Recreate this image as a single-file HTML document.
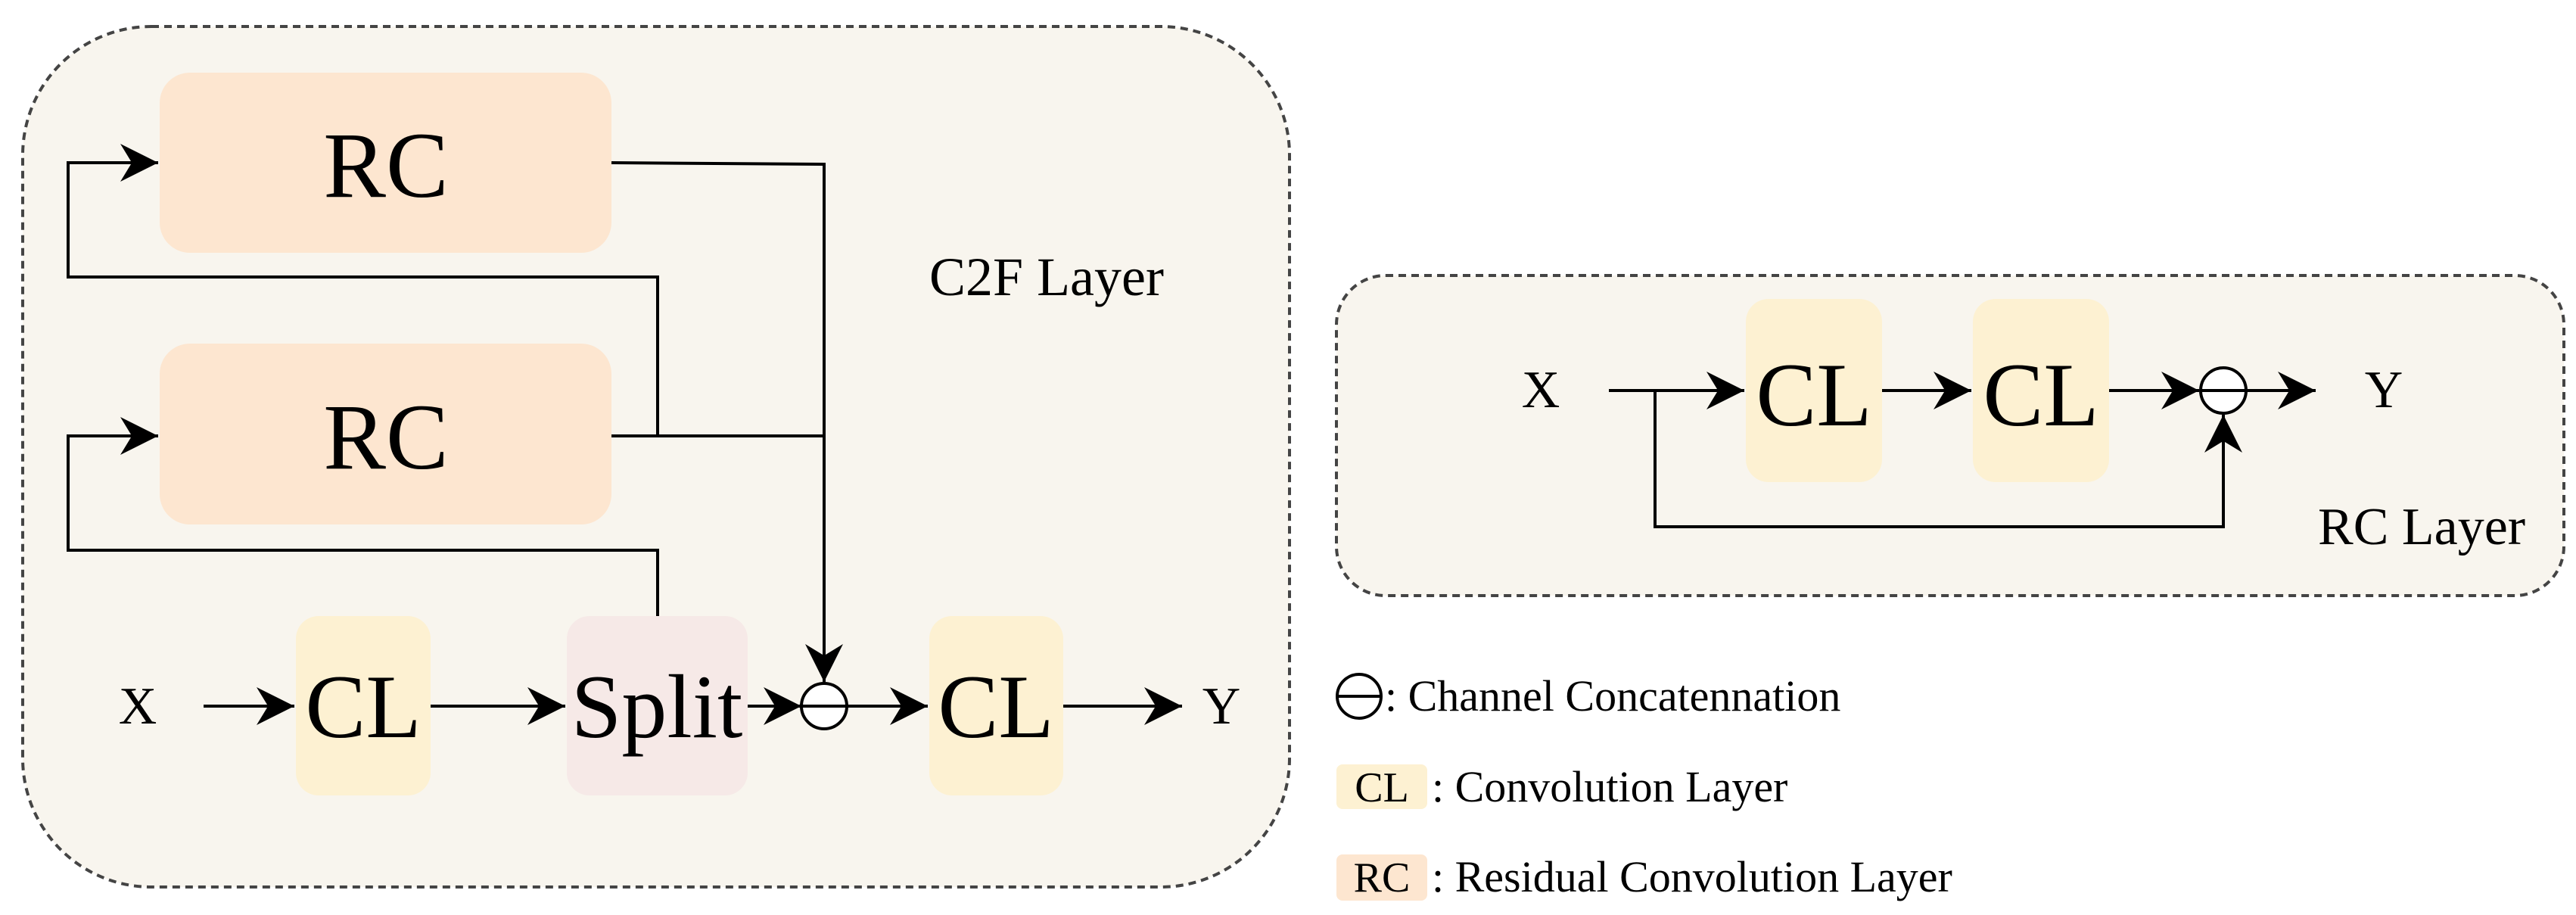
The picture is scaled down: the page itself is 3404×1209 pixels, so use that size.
<!DOCTYPE html>
<html><head><meta charset="utf-8"><style>
html,body{margin:0;padding:0;background:#fff}
svg{display:block}
text{font-family:"Liberation Serif",serif;fill:#000}
</style></head><body>
<svg width="3404" height="1209" viewBox="0 0 3404 1209" xmlns="http://www.w3.org/2000/svg">
<defs>
<marker id="a" markerUnits="userSpaceOnUse" markerWidth="50" markerHeight="50" viewBox="0 0 46 46" refX="46" refY="23" orient="auto">
<path d="M0,0 L46,23 L0,46 L14,23 Z" fill="#000"/>
</marker>
</defs>
<!-- C2F box -->
<rect x="30" y="35" width="1674" height="1137" rx="170" fill="#f8f5ee" stroke="#444" stroke-width="4" stroke-dasharray="10,7"/>
<rect x="211" y="96" width="597" height="238" rx="40" fill="#fde6d0"/>
<rect x="211" y="454" width="597" height="239" rx="40" fill="#fde6d0"/>
<rect x="391" y="814" width="178" height="237" rx="30" fill="#fdf1d2"/>
<rect x="749" y="814" width="239" height="237" rx="30" fill="#f6e9e7"/>
<rect x="1228" y="814" width="177" height="237" rx="30" fill="#fdf1d2"/>
<text x="510" y="260" font-size="124" text-anchor="middle">RC</text>
<text x="510" y="619" font-size="124" text-anchor="middle">RC</text>
<text x="480" y="974" font-size="120" text-anchor="middle">CL</text>
<text x="868" y="974" font-size="120" text-anchor="middle">Split</text>
<text x="1316" y="974" font-size="120" text-anchor="middle">CL</text>
<text x="182" y="956" font-size="70" text-anchor="middle">X</text>
<text x="1614" y="956" font-size="70" text-anchor="middle">Y</text>
<text x="1228" y="390" font-size="72">C2F Layer</text>
<g stroke="#000" stroke-width="4" fill="none">
<line x1="269" y1="933" x2="389" y2="933" marker-end="url(#a)"/>
<line x1="569" y1="933" x2="747" y2="933" marker-end="url(#a)"/>
<line x1="988" y1="933" x2="1059" y2="933" marker-end="url(#a)"/>
<line x1="1119" y1="933" x2="1226" y2="933" marker-end="url(#a)"/>
<line x1="1405" y1="933" x2="1562" y2="933" marker-end="url(#a)"/>
<polyline points="808,215 1089,217 1089,901" marker-end="url(#a)"/>
<line x1="808" y1="576" x2="1089" y2="576"/>
<polyline points="869,576 869,366 90,366 90,215 209,215" marker-end="url(#a)"/>
<polyline points="869,814 869,727 90,727 90,576 209,576" marker-end="url(#a)"/>
<circle cx="1089" cy="933" r="30" fill="#fff"/>
<line x1="1059" y1="933" x2="1119" y2="933"/>
</g>
<!-- RC layer -->
<rect x="1766" y="364" width="1622" height="423" rx="65" fill="#f8f5ee" stroke="#444" stroke-width="4" stroke-dasharray="10,7"/>
<rect x="2307" y="395" width="180" height="242" rx="30" fill="#fdf1d2"/>
<rect x="2607" y="395" width="180" height="242" rx="30" fill="#fdf1d2"/>
<text x="2397" y="562" font-size="120" text-anchor="middle">CL</text>
<text x="2697" y="562" font-size="120" text-anchor="middle">CL</text>
<text x="2036" y="538" font-size="70" text-anchor="middle">X</text>
<text x="3150" y="538" font-size="70" text-anchor="middle">Y</text>
<text x="3063" y="719" font-size="70">RC Layer</text>
<g stroke="#000" stroke-width="4" fill="none">
<line x1="2126" y1="516" x2="2305" y2="516" marker-end="url(#a)"/>
<line x1="2487" y1="516" x2="2605" y2="516" marker-end="url(#a)"/>
<line x1="2787" y1="516" x2="2906" y2="516" marker-end="url(#a)"/>
<line x1="2968" y1="516" x2="3060" y2="516" marker-end="url(#a)"/>
<polyline points="2187,516 2187,696 2938,696 2938,548" marker-end="url(#a)"/>
<circle cx="2938" cy="516" r="30" fill="#fff"/>
<line x1="2908" y1="516" x2="2968" y2="516"/>
</g>
<!-- legend -->
<g stroke="#000" stroke-width="4" fill="none">
<circle cx="1796" cy="920" r="29" fill="#fff"/>
<line x1="1767" y1="920" x2="1825" y2="920"/>
</g>
<text x="1830" y="939" font-size="58">: Channel Concatennation</text>
<rect x="1766" y="1010" width="120" height="59" rx="8" fill="#fdf1d2"/>
<text x="1826" y="1059" font-size="56" text-anchor="middle">CL</text>
<text x="1892" y="1059" font-size="58">: Convolution Layer</text>
<rect x="1766" y="1129" width="120" height="61" rx="8" fill="#fde6d0"/>
<text x="1826" y="1178" font-size="56" text-anchor="middle">RC</text>
<text x="1892" y="1178" font-size="58">: Residual Convolution Layer</text>
</svg>
</body></html>
